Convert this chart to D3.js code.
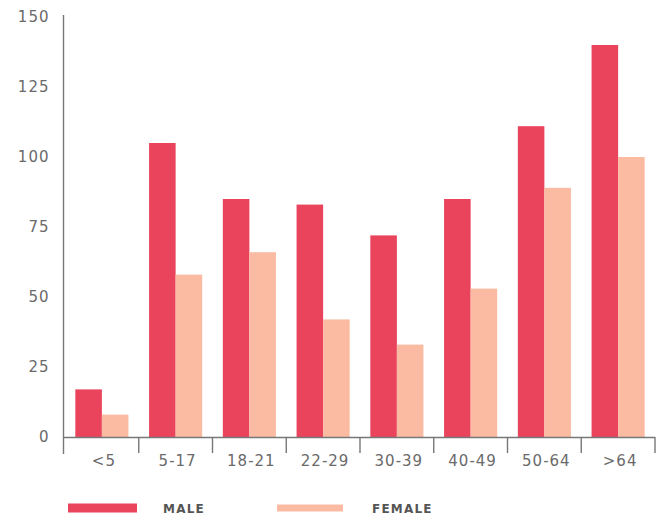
<!DOCTYPE html>
<html>
<head>
<meta charset="utf-8">
<script src="https://cdn.jsdelivr.net/npm/d3@7"></script>
<style>
  html, body { margin: 0; padding: 0; background: #fff; }
  svg { display: block; }
  .tick text { font-family: "DejaVu Sans", sans-serif; font-size: 15px; fill: #6a6a6a; letter-spacing: 1px; }
  .legend text { font-family: "DejaVu Sans", sans-serif; font-size: 12px; font-weight: bold; fill: #555; letter-spacing: 1.2px; }
</style>
</head>
<body>
<svg id="chart" width="664" height="519"></svg>
<script>
// Age groups and counts by sex
const ageGroups = ["<5", "5-17", "18-21", "22-29", "30-39", "40-49", "50-64", ">64"];
const male   = [17, 105, 85, 83, 72, 85, 111, 140];
const female = [8, 58, 66, 42, 33, 53, 89, 100];
const seriesNames = ["MALE", "FEMALE"];
const yTicks = [0, 25, 50, 75, 100, 125, 150];

const colors = { MALE: "#e9445c", FEMALE: "#fbbba3" };

const svg = d3.select("#chart");
const baseY = 437, topY = 17;
const left = 65, right = 655;

const x0 = d3.scaleBand().domain(ageGroups).range([left, right])
  .paddingInner(0.28).paddingOuter(0.14);
const x1 = d3.scaleBand().domain(seriesNames).range([0, x0.bandwidth()]);
const y = d3.scaleLinear().domain([0, 150]).range([baseY, topY]);

const rows = ageGroups.map((g, i) => ({ group: g, MALE: male[i], FEMALE: female[i] }));

// bars
const groups = svg.append("g").selectAll("g").data(rows).join("g")
  .attr("transform", d => `translate(${x0(d.group)},0)`);
groups.selectAll("rect")
  .data(d => seriesNames.map(k => ({ key: k, value: d[k] })))
  .join("rect")
  .attr("x", d => x1(d.key))
  .attr("width", x1.bandwidth())
  .attr("y", d => y(d.value))
  .attr("height", d => y(0) - y(d.value))
  .attr("fill", d => colors[d.key]);

// y axis: line only, labels to the left
const yAxis = d3.axisLeft(y).tickValues(yTicks).tickSize(0).tickPadding(14);
const gy = svg.append("g").attr("transform", "translate(63.5,0)").call(yAxis);
gy.select(".domain").remove();
svg.append("line")
  .attr("x1", 63.5).attr("x2", 63.5).attr("y1", 15).attr("y2", 454)
  .attr("stroke", "#777").attr("stroke-width", 1.4);

// x axis with separators between groups
svg.append("line")
  .attr("x1", 63).attr("x2", right).attr("y1", baseY + 0.5).attr("y2", baseY + 0.5)
  .attr("stroke", "#777").attr("stroke-width", 1.4);
const step = x0.step();
const bounds = d3.range(ageGroups.length + 1).map(i => left + i * step);
svg.append("g").selectAll("line").data(bounds.slice(1)).join("line")
  .attr("x1", d => d).attr("x2", d => d)
  .attr("y1", baseY).attr("y2", baseY + 16)
  .attr("stroke", "#777").attr("stroke-width", 1.4);

const xAxis = d3.axisBottom(x0).tickSize(0).tickPadding(18);
const gx = svg.append("g").attr("transform", `translate(2,${baseY})`).call(xAxis);
gx.select(".domain").remove();

// legend
const legend = svg.append("g").attr("class", "legend");
const legendItems = [
  { key: "MALE", x: 68, w: 69, h: 9, tx: 163 },
  { key: "FEMALE", x: 277, w: 66, h: 7, tx: 372 }
];
legend.selectAll("rect").data(legendItems).join("rect")
  .attr("x", d => d.x).attr("y", d => 508 - d.h / 2)
  .attr("width", d => d.w).attr("height", d => d.h)
  .attr("fill", d => colors[d.key]);
legend.selectAll("text").data(legendItems).join("text")
  .attr("x", d => d.tx).attr("y", 513)
  .text(d => d.key);
</script>
</body>
</html>
